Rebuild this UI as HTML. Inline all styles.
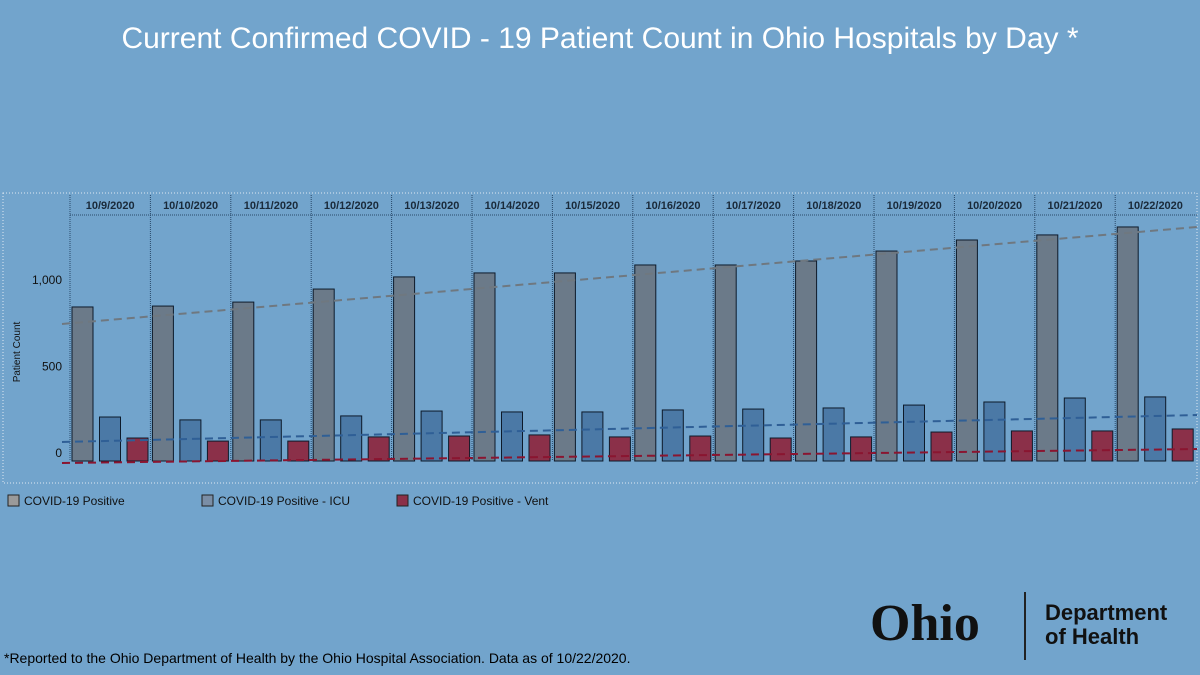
<!DOCTYPE html>
<html><head><meta charset="utf-8"><style>
body{margin:0;width:1200px;height:675px;background:#72a4cc;font-family:"Liberation Sans",sans-serif;overflow:hidden;position:relative}
.t{position:absolute;white-space:nowrap}
</style></head><body>
<div class="t" style="left:0;width:1200px;text-align:center;top:22px;font-size:30px;color:#fff">Current Confirmed COVID - 19 Patient Count in Ohio Hospitals by Day *</div>
<svg id="c" width="1200" height="675" style="position:absolute;left:0;top:0"></svg>
<div class="t" style="left:4px;top:650px;font-size:14px;color:#000">*Reported to the Ohio Department of Health by the Ohio Hospital Association. Data as of 10/22/2020.</div>
<div class="t" style="left:870px;top:594px;font-size:52px;font-weight:bold;font-family:'Liberation Serif',serif;color:#111">Ohio</div>
<div style="position:absolute;left:1024px;top:592px;width:2px;height:68px;background:#222"></div>
<div class="t" style="left:1045px;top:601px;font-size:22px;font-weight:bold;color:#111;line-height:24px">Department<br>of Health</div>
<script>
const categories=["10/9/2020","10/10/2020","10/11/2020","10/12/2020","10/13/2020","10/14/2020","10/15/2020","10/16/2020","10/17/2020","10/18/2020","10/19/2020","10/20/2020","10/21/2020","10/22/2020"];
const positive=[851,856,878,950,1017,1039,1039,1083,1083,1105,1160,1221,1249,1293];
const icu=[243,227,227,249,276,271,271,282,287,293,309,326,348,354];
const vent=[127,110,110,133,138,144,133,138,127,133,160,166,166,177];
const trendStart=[757,105,-11];
const trendEnd=[1293,254,66];
const yTicks=[0,500,1000];
const yTickLabels=["0","500","1,000"];
const seriesNames=["COVID-19 Positive","COVID-19 Positive - ICU","COVID-19 Positive - Vent"];
const svg=document.getElementById('c');const NS='http://www.w3.org/2000/svg';
function mk(tag,a,p){const e=document.createElementNS(NS,tag);for(const k in a)e.setAttribute(k,a[k]);(p||svg).appendChild(e);return e;}
const x0=70,pw=80.4,zeroY=461,k=0.181;
const y=v=>zeroY-v*k;
const px=i=>x0+i*pw;
let e=mk('rect',{x:3,y:193,width:1194,height:290,fill:'none',stroke:'#dde8f2','stroke-dasharray':'1,2'});


e=mk('line',{x1:70,y1:215,x2:1197,y2:215,stroke:'#2a4a6a','stroke-dasharray':'1,1'});


yTicks.forEach((v,i)=>{const t=mk('text',{x:62,y:y(v)-4+v*0.008,'text-anchor':'end','font-size':12,fill:'#111'});t.textContent=yTickLabels[i];

});
e=mk('text',{x:20,y:352,'text-anchor':'middle','font-size':10,fill:'#111',transform:'rotate(-90 20 352)'});e.textContent='Patient Count';


const cols=['#6b7a89','#4b79a6','#8b3049'];
categories.forEach((c,i)=>{
 const l=mk('line',{x1:px(i),y1:195,x2:px(i),y2:zeroY,stroke:'#2a4a6a','stroke-dasharray':'1,1'});
 
 
 const t=mk('text',{x:px(i)+pw/2,y:209,'text-anchor':'middle','font-size':11,'font-weight':'bold',fill:'#1a2a3a'});t.textContent=c;
 
 
 [positive,icu,vent].forEach((s,j)=>{
  const b=mk('rect',{x:px(i)+2+j*27.5,y:y(s[i]),width:21,height:s[i]*k,fill:cols[j],stroke:'#0d1a2a','stroke-width':1});
  
  
 });
});
const tc=['#6f7880','#2f5f96','#8a1530'];
trendStart.forEach((v,j)=>{
 const L=mk('line',{x1:62,y1:y(v),x2:1197,y2:y(trendEnd[j]),stroke:tc[j],'stroke-width':2,'stroke-dasharray':'8,5'});
 
 
});
const lx=[8,202,397];
seriesNames.forEach((nm,j)=>{
 const r=mk('rect',{x:lx[j],y:495,width:11,height:11,fill:['#9a9a9a','#7a8ea6','#8b3049'][j],stroke:'#222'});
 
 
 const t=mk('text',{x:lx[j]+16,y:505,'font-size':12,fill:'#111'});t.textContent=nm;
 
 
});
</script>
</body></html>
